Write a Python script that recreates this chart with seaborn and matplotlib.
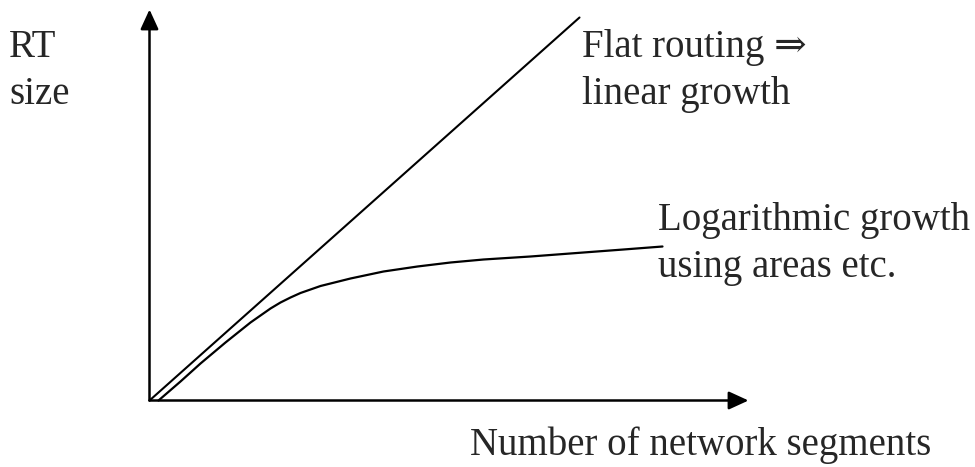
import numpy as np
import pandas as pd
import matplotlib
matplotlib.use("Agg")
import matplotlib.pyplot as plt
import seaborn as sns

# data (arbitrary units: network segments vs routing table size)
flat_x = [0.0, 4.30]
flat_y = [0.0, 3.83]

log_x = [0.09, 0.31, 0.51, 0.76, 1.01, 1.11, 1.21, 1.31, 1.41, 1.51, 1.61,
         1.71, 1.81, 1.91, 2.01, 2.34, 2.68, 3.01, 3.34, 3.81, 4.34, 4.74, 5.13]
log_y = [0.0, 0.19, 0.37, 0.58, 0.78, 0.85, 0.92, 0.98, 1.03, 1.075, 1.11,
         1.145, 1.17, 1.195, 1.22, 1.29, 1.34, 1.38, 1.41, 1.44, 1.48, 1.51, 1.54]

axis_x_end = 5.99
axis_y_end = 3.91

label_y = ["RT", "size"]
label_flat = ["Flat routing \u21d2", "linear growth"]
label_log = ["Logarithmic growth", "using areas etc."]
label_x = "Number of network segments"

sns.set_style("white")
plt.rcParams["font.family"] = ["Liberation Serif", "DejaVu Serif"]

fig = plt.figure(figsize=(9.75, 4.67), dpi=100)
ax = fig.add_axes([0, 0, 1, 1])

df_flat = pd.DataFrame({"x": flat_x, "y": flat_y})
df_log = pd.DataFrame({"x": log_x, "y": log_y})
sns.lineplot(data=df_flat, x="x", y="y", ax=ax, color="black", lw=1.5,
             sort=False, estimator=None)
sns.lineplot(data=df_log, x="x", y="y", ax=ax, color="black", lw=1.6,
             sort=False, estimator=None, solid_joinstyle="round")

# axes with arrow heads
arrow = dict(arrowstyle="-|>,head_length=1.2,head_width=0.55", color="black",
             lw=1.8, shrinkA=0, shrinkB=0, mutation_scale=10)
ax.annotate("", xy=(axis_x_end, 0), xytext=(0, 0), arrowprops=arrow)
ax.annotate("", xy=(0, axis_y_end), xytext=(0, 0), arrowprops=arrow)

ax.set_xlim(-1.495, 8.255)
ax.set_ylim(-0.665, 4.005)
ax.axis("off")

fs = 28
W, H = 975, 467


def put(px, py, s):
    fig.text(px / W, 1 - py / H, s, fontsize=fs, va="baseline", ha="left")


put(9, 57, label_y[0])
put(9, 104, label_y[1])
put(582, 57, label_flat[0])
put(582, 104, label_flat[1])
put(658, 230, label_log[0])
put(658, 277, label_log[1])
put(470, 455, label_x)

fig.savefig("out.png", dpi=100)
